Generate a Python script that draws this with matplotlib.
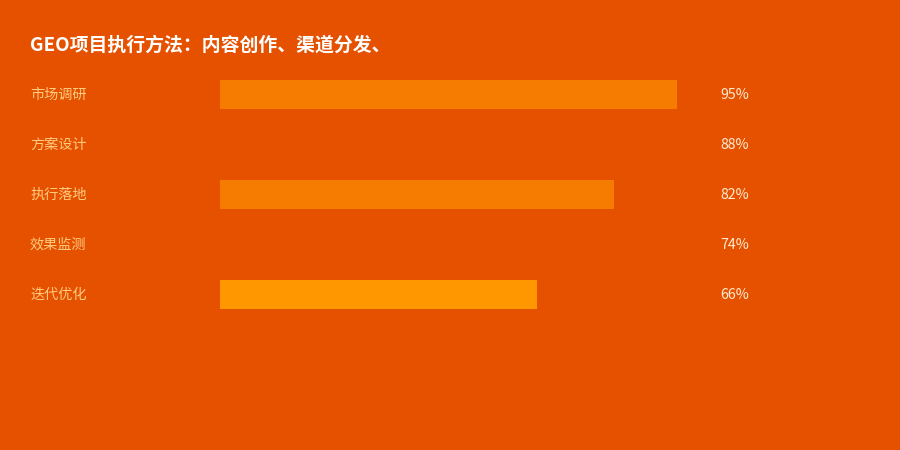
import matplotlib
matplotlib.use("Agg")
import matplotlib.pyplot as plt
from matplotlib.transforms import blended_transform_factory, offset_copy

plt.rcParams['font.family'] = ['Noto Sans CJK SC', 'DejaVu Sans']

title = "GEO项目执行方法：内容创作、渠道分发、"
categories = ["市场调研", "方案设计", "执行落地", "效果监测", "迭代优化"]
values = [95, 88, 82, 74, 66]
bar_colors = ["#F57C00", "#E65100", "#F57C00", "#E65100", "#FF9800"]
value_labels = [f"{v}%" for v in values]

BG = "#E65100"
W, H = 900, 450
fig = plt.figure(figsize=(9, 4.5), dpi=100, facecolor=BG)

ax_left, ax_right = 220, 701
ax_top, ax_bot = 69, 319
ax = fig.add_axes([ax_left / W, 1 - ax_bot / H, (ax_right - ax_left) / W, (ax_bot - ax_top) / H])
ax.set_facecolor(BG)
ypos = list(range(len(categories)))
ax.barh(ypos, values, height=0.58, color=bar_colors, linewidth=0)
ax.set_xlim(0, 100)
ax.set_ylim(len(categories) - 0.5, -0.5)
ax.axis("off")

tr = offset_copy(blended_transform_factory(fig.transFigure, ax.transData),
                 fig=fig, x=0, y=-1, units="dots")
for y, cat, lab in zip(ypos, categories, value_labels):
    fig.text(30 / W, y, cat, transform=tr, ha="left", va="center",
             fontsize=10.2, color="#FFCC80")
    fig.text(720 / W, y, lab, transform=tr, ha="left", va="center",
             fontsize=10.2, color="#FFECD2")

fig.text(30 / W, 1 - 45 / H, title, ha="left", va="center",
         fontsize=13.6, fontweight="bold", color="white")

fig.savefig("out.png", dpi=100, facecolor=BG)
